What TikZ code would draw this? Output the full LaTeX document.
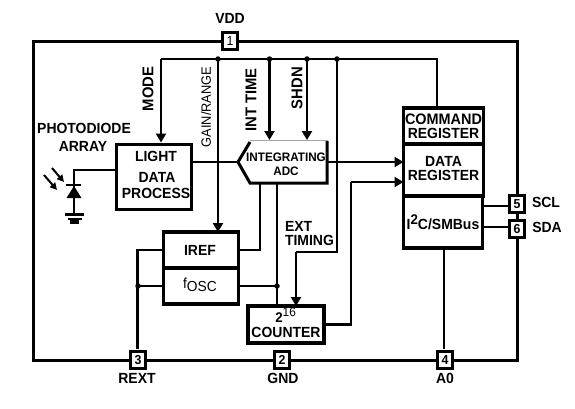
\documentclass[tikz,border=0pt]{standalone}
\usepackage{fontspec}
\setmainfont[FakeStretch=0.95]{Liberation Sans}
\usetikzlibrary{arrows.meta}
\tikzset{
  wire/.style={line width=2.8pt,line cap=butt,line join=miter},
  arr/.style={wire,-{Triangle[width=10pt,length=9pt]}},
  blk/.style={draw,line width=3.2pt,fill=white,inner sep=0pt,outer sep=0pt,align=center},
  pin/.style={draw,line width=3pt,fill=white,inner sep=0pt,outer sep=0pt,minimum width=15pt,minimum height=17pt,font=\fontsize{13}{14}\selectfont\bfseries},
  lab/.style={inner sep=0pt,outer sep=0pt,align=center,font=\fontsize{14.7}{15}\selectfont\bfseries},
  vlab/.style={lab,rotate=90,font=\fontsize{15.6}{16}\selectfont\bfseries},
  dot/.style={circle,fill=black,inner sep=0pt,minimum size=5.5pt}
}
\begin{document}
\begin{tikzpicture}[x=1pt,y=-1pt]
\useasboundingbox (0,0) rectangle (575,408);
% outer package outline
\draw[line width=3pt] (33,41) rectangle (517,360);
% blocks
\node[blk,minimum width=75pt,minimum height=65pt] (light) at (154,177) {};
\node[blk,minimum width=75pt,minimum height=36pt] (iref) at (201,250) {};
\node[blk,minimum width=75pt,minimum height=36pt] (fosc) at (201,286) {};
\node[blk,minimum width=76pt,minimum height=37pt] (counter) at (286,324.5) {};
\node[blk,minimum width=80pt,minimum height=36pt] (cmd) at (443.5,126) {};
\node[blk,minimum width=80pt,minimum height=52pt] (data) at (443.5,170) {};
\node[blk,minimum width=79pt,minimum height=52pt] (i2c) at (443,222) {};
% ADC outline
\fill[white] (238,162) -- (250,141) -- (327,141) -- (327,183) -- (250,183) -- cycle;
\draw[line width=1.6pt,gray!70] (250,140.5) -- (328,140.5);
\draw[line width=3pt,line join=miter] (250,142) -- (238,162) coordinate (adcin) -- (250,183) -- (327,183) -- (327,141);
\coordinate (adcout) at (327,162);
% pins
\coordinate (bus0) at (161,59);
\coordinate (busend) at (437,59);
\coordinate (jg) at (218,59);
\coordinate (ji) at (269.5,59);
\coordinate (js) at (307,59);
\coordinate (je) at (337,59);
% wires
\draw[wire] (light.north -| bus0) ++(0,-2) coordinate (lt);
\draw[wire] (busend |- cmd.north) |- (bus0);
\draw[arr] (bus0) -- (lt);
\draw[arr] (jg) -- (jg |- iref.north);
\draw[arr] (ji) -- (269.5,140);
\draw[arr] (js) -- (307,140);
\draw[wire] (light.east |- adcin) -- (adcin);
\draw[arr] (adcout) -- (data.west |- adcout);
\draw[wire] (counter.east) -- ++(27,0) coordinate (cr) -- (cr |- 0,182) coordinate (cu);
\draw[arr] (cu) -- (data.west |- cu);
\draw[wire] (je) -- (337,252) coordinate (ee) -- (296,252) coordinate (ef);
\draw[arr] (ef) -- (ef |- counter.north);
\draw[wire] (iref.east) -- (260,250) -- (260,183);
\draw[wire] (277,183) coordinate (ab) -- (ab |- counter.north);
\draw[wire] (fosc.east) -- (277,286) coordinate (jf);
\coordinate (jr) at (138,286);
\draw[wire] (fosc.west) -- (jr);
\draw[line width=2pt] (iref.west) -- (138,250) coordinate (jt);
\draw[wire] (137.5,249) -- (137.5,349);
% pins on top
\node[pin] (p1) at (230,41) {\fontseries{m}\selectfont 1};
\node[pin] (p3) at (138,360) {3};
\node[pin] (p2) at (282,360) {2};
\node[pin] (p4) at (445,360) {4};
\node[pin] (p5) at (517,204) {5};
\node[pin] (p6) at (517,229) {6};
\draw[wire] (i2c.east |- 0,206) -- (p5.west |- 0,206);
\draw[wire] (i2c.east |- 0,227) -- (p6.west |- 0,227);
\draw[wire] (444,249) -- (444,349);
% junction dots
\foreach \c in {jg,ji,js,je,jf,jr} \node[dot] at (\c) {};
% photodiode
\coordinate (dtop) at (74,184);
\coordinate (gnd) at (74,214);
\draw[wire] (light.west |- 0,170) -- (74,170) -- (gnd);
\fill (66,184) rectangle (81,186);
\fill (74,186) -- (66.5,198) -- (81.5,198) -- cycle;
\fill (65,213) rectangle (84,215.5);
\fill (67.5,217.5) rectangle (82,220);
\fill (70,220) rectangle (79,224);
\draw[line width=2pt,-{Triangle[width=7pt,length=7pt]}] (52,168) -- (64,182);
\draw[line width=2pt,-{Triangle[width=7pt,length=7pt]}] (44,175) -- (57,190);
% labels
\node[lab] (tvdd) at (230,18) {VDD};
\node[lab] (tpd) at (84,128) {PHOTODIODE};
\node[lab] (tar) at (83,146) {ARRAY};
\node[lab] at (156,156) {LIGHT};
\node[lab] at (157,177) {DATA};
\node[lab] at (156,193.5) {PROCESS};
\node[vlab] at (148,89) {MODE};
\node[vlab,font=\fontsize{13.5}{14}\selectfont] at (206,107) {GAIN/RANGE};
\node[vlab] at (251,100) {INT TIME};
\node[vlab] at (297,88) {SHDN};
\node[lab,font=\fontsize{12.3}{13}\selectfont\bfseries] at (286,157) {INTEGRATING};
\node[lab,font=\fontsize{12.3}{13}\selectfont\bfseries] at (286,171) {ADC};
\node[lab,font=\fontsize{15.2}{16}\selectfont\bfseries] at (443.5,119) {COMMAND};
\node[lab] at (443.5,133) {REGISTER};
\node[lab] at (443.5,161.5) {DATA};
\node[lab] at (443.5,175.5) {REGISTER};
\node[lab] at (443,222) {I\raisebox{5pt}{\fontsize{14}{15}\selectfont 2}C/SMBus};
\node[lab] at (546,202) {SCL};
\node[lab] at (547,227) {SDA};
\node[lab,anchor=west] at (285,226) {EXT};
\node[lab,anchor=west] at (285,240) {TIMING};
\node[lab] at (200,250) {IREF};
\node[lab,font=\fontsize{14.5}{15}\selectfont] at (200,285) {\raisebox{3pt}{f}OSC};
\node[lab,font=\fontsize{14}{14}\selectfont\bfseries] (ctwo) at (279,317.5) {2};
\node[lab,font=\fontsize{12.5}{13}\selectfont,anchor=west] at (ctwo.north east) {16};
\node[lab] at (286,332) {COUNTER};
\node[lab] at (137,378) {REXT};
\node[lab] at (283,378) {GND};
\node[lab] at (445,378) {A0};
\end{tikzpicture}
\end{document}
